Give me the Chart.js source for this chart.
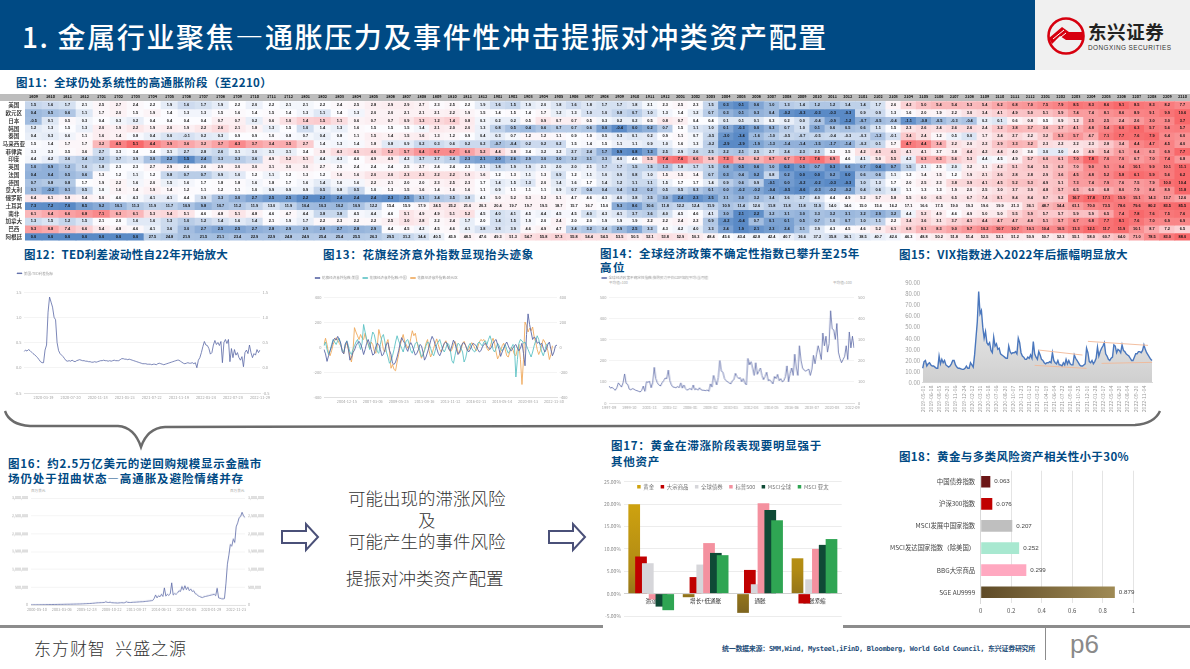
<!DOCTYPE html>
<html lang="zh"><head><meta charset="utf-8">
<script src="https://cdn.jsdelivr.net/npm/chart.js@4/dist/chart.umd.min.js"></script>
<style>
html,body{margin:0;padding:0;background:#fff;width:1190px;height:669px;overflow:hidden;font-family:"Noto Sans CJK SC","Noto Sans",sans-serif}
.t{position:absolute;white-space:nowrap;transform:translateY(-50%);line-height:1}
canvas{position:absolute}
.b{position:absolute}
</style></head><body>
<script>
// ---------- figure 11: CPI heat table ----------
const months=['1609','1610','1611','1612','1701','1702','1703','1704','1705','1706','1707','1708','1709','1710','1711','1712','1801','1802','1803','1804','1805','1806','1807','1808','1809','1810','1811','1812','1901','1902','1903','1904','1905','1906','1907','1908','1909','1910','1911','1912','2001','2002','2003','2004','2005','2006','2007','2008','2009','2010','2011','2012','2101','2102','2103','2104','2105','2106','2107','2108','2109','2110','2111','2112','2201','2202','2203','2204','2205','2206','2207','2208','2209','2210'];
const countries=['美国','欧元区','日本','韩国','泰国','马来西亚','菲律宾','印度','英国','法国','德国','意大利','俄罗斯','土耳其','南非','加拿大','巴西','阿根廷'];
const cpiUS=[1.5,1.6,1.7,2.1,2.5,2.7,2.4,2.2,1.9,1.6,1.7,1.9,2.2,2.0,2.2,2.1,2.1,2.2,2.4,2.5,2.8,2.9,2.9,2.7,2.3,2.5,2.2,1.9,1.6,1.5,1.9,2.0,1.8,1.6,1.8,1.7,1.7,1.8,2.1,2.3,2.5,2.3,1.5,0.3,0.1,0.6,1.0,1.3,1.4,1.2,1.2,1.4,1.4,1.7,2.6,4.2,5.0,5.4,5.4,5.3,5.4,6.2,6.8,7.0,7.5,7.9,8.5,8.3,8.6,9.1,8.5,8.3,8.2,7.7];
const cpiEA=[0.4,0.5,0.6,1.1,1.7,2.0,1.5,1.9,1.4,1.3,1.3,1.5,1.6,1.4,1.5,1.4,1.3,1.1,1.4,1.3,2.0,2.0,2.1,2.1,2.1,2.2,1.9,1.5,1.4,1.5,1.4,1.7,1.2,1.3,1.0,1.0,0.8,0.7,1.0,1.3,1.4,1.2,0.7,0.3,0.1,0.3,0.4,-0.2,-0.3,-0.3,-0.3,-0.3,0.9,0.9,1.3,1.6,2.0,1.9,2.2,3.0,3.4,4.1,4.9,5.0,5.1,5.9,7.4,7.4,8.1,8.6,8.9,9.1,9.9,10.6];
const cpiJP=[-0.5,0.1,0.5,0.3,0.4,0.3,0.2,0.4,0.4,0.4,0.4,0.7,0.7,0.2,0.6,1.0,1.4,1.5,1.1,0.6,0.7,0.7,0.9,1.3,1.2,1.4,0.8,0.3,0.2,0.2,0.5,0.9,0.7,0.7,0.5,0.3,0.2,0.2,0.5,0.8,0.7,0.4,0.4,0.1,0.1,0.1,0.3,0.2,0.0,-0.4,-0.9,-1.2,-0.7,-0.5,-0.4,-1.1,-0.8,-0.5,-0.3,-0.4,0.2,0.1,0.6,0.8,0.5,0.9,1.2,2.5,2.5,2.4,2.6,3.0,3.0,3.7];
const cpiKR=[1.2,1.3,1.5,1.3,2.0,1.9,2.2,1.9,2.0,1.9,2.2,2.6,2.1,1.8,1.3,1.5,1.0,1.4,1.3,1.6,1.5,1.5,1.5,1.4,2.1,2.0,2.0,1.3,0.8,0.5,0.4,0.6,0.7,0.7,0.6,0.0,-0.4,0.0,0.2,0.7,1.5,1.1,1.0,0.1,-0.3,0.0,0.3,0.7,1.0,0.1,0.6,0.5,0.6,1.1,1.5,2.3,2.6,2.4,2.6,2.6,2.4,3.2,3.8,3.7,3.6,3.7,4.1,4.8,5.4,6.0,6.3,5.7,5.6,5.7];
const cpiTH=[0.4,0.3,0.6,1.1,1.6,1.4,0.8,0.4,0.0,-0.1,0.2,0.3,0.9,0.9,1.0,0.8,0.7,0.4,0.8,1.1,1.5,1.4,1.5,1.6,1.3,1.2,0.9,0.4,0.3,0.7,1.2,1.2,1.1,0.9,1.0,0.5,0.3,0.1,0.2,0.9,1.1,0.7,-0.5,-3.0,-3.4,-1.6,-1.0,-0.5,-0.7,-0.5,-0.4,-0.3,-0.3,-1.2,-0.1,3.4,2.4,1.2,0.5,0.0,1.7,2.4,2.7,2.2,3.2,5.3,5.7,4.7,7.1,7.7,7.6,7.9,6.4,6.0];
const cpiMY=[1.5,1.4,1.7,1.7,3.2,4.5,5.1,4.4,3.9,3.6,3.2,3.7,4.3,3.7,3.4,3.5,2.7,1.4,1.3,1.4,1.8,0.8,0.9,0.2,0.3,0.6,0.2,0.2,-0.7,-0.4,0.2,0.2,0.2,1.5,1.4,1.5,1.1,1.1,0.9,1.0,1.6,1.3,-0.2,-2.9,-2.9,-1.9,-1.3,-1.4,-1.4,-1.5,-1.7,-1.4,-0.2,0.1,1.7,4.7,4.4,3.4,2.2,2.0,2.2,2.9,3.3,3.2,2.3,2.2,2.2,2.3,2.8,3.4,4.4,4.7,4.5,4.0];
const cpiPH=[3.3,3.3,3.5,3.6,2.7,3.3,3.4,3.4,3.1,2.7,2.8,2.6,3.1,3.0,3.1,3.1,3.4,3.8,4.3,4.5,4.6,5.2,5.7,6.4,6.7,6.7,6.0,5.2,4.4,3.8,3.4,3.2,3.2,2.7,2.4,1.7,0.9,0.8,1.3,2.5,2.9,2.6,2.5,2.2,2.1,2.5,2.7,2.4,2.3,2.5,3.3,3.5,4.2,4.5,4.5,4.1,4.1,3.7,3.8,4.4,4.2,4.4,4.0,3.6,3.0,3.0,4.0,4.9,5.4,6.1,6.4,6.3,6.9,7.7];
const cpiIN=[4.4,4.2,3.6,3.4,3.2,3.7,3.9,3.0,2.2,1.5,2.4,3.3,3.3,3.6,4.9,5.2,5.1,4.4,4.3,4.6,4.9,4.9,4.2,3.7,3.7,3.4,2.3,2.1,2.0,2.6,2.9,3.0,3.0,3.2,3.1,3.3,4.0,4.6,5.5,7.4,7.6,6.6,5.8,7.3,6.3,6.2,6.7,6.7,7.3,7.6,6.9,4.6,4.1,5.0,5.5,4.2,6.3,6.3,5.6,5.3,4.4,4.5,4.9,5.7,6.0,6.1,7.0,7.8,7.0,7.0,6.7,7.0,7.4,6.8];
const cpiUK=[1.0,0.9,1.2,1.6,1.8,2.3,2.3,2.7,2.9,2.6,2.6,2.9,3.0,3.0,3.1,3.0,3.0,2.7,2.5,2.4,2.4,2.4,2.5,2.7,2.4,2.4,2.3,2.1,1.8,1.9,1.9,2.1,2.0,2.0,2.1,1.7,1.7,1.5,1.5,1.3,1.8,1.7,1.5,0.8,0.5,0.6,1.0,0.2,0.5,0.7,0.3,0.6,0.7,0.4,0.7,1.5,2.1,2.5,2.0,3.2,3.1,4.2,5.1,5.4,5.5,6.2,7.0,9.0,9.1,9.4,10.1,9.9,10.1,11.1];
const cpiFR=[0.4,0.4,0.5,0.6,1.3,1.2,1.1,1.2,0.8,0.7,0.7,0.9,1.0,1.2,1.1,1.2,1.3,1.2,1.6,1.6,2.0,2.0,2.3,2.3,2.2,2.2,1.9,1.6,1.2,1.3,1.1,1.3,0.9,1.2,1.1,1.0,0.9,0.8,1.0,1.5,1.5,1.4,0.7,0.3,0.4,0.2,0.8,0.2,0.0,0.0,0.2,0.0,0.6,0.6,1.1,1.2,1.4,1.5,1.2,1.9,2.1,2.6,2.8,2.8,2.9,3.6,4.5,4.8,5.2,5.8,6.1,5.9,5.6,6.2];
const cpiDE=[0.7,0.8,0.8,1.7,1.9,2.2,1.6,2.0,1.5,1.6,1.7,1.8,1.8,1.6,1.8,1.7,1.6,1.4,1.6,1.6,2.2,2.1,2.0,2.0,2.3,2.5,2.3,1.7,1.4,1.5,1.3,2.0,1.4,1.6,1.7,1.4,1.2,1.1,1.1,1.5,1.7,1.7,1.4,0.9,0.6,0.9,-0.1,0.0,-0.2,-0.2,-0.3,-0.3,1.0,1.3,1.7,2.0,2.5,2.3,3.8,3.9,4.1,4.5,5.2,5.3,4.9,5.1,7.3,7.4,7.9,7.6,7.5,7.9,10.0,10.4];
const cpiIT=[0.1,-0.2,0.1,0.5,1.0,1.6,1.4,1.9,1.4,1.2,1.1,1.2,1.1,1.0,0.9,0.9,0.9,0.5,0.8,0.5,1.0,1.3,1.5,1.6,1.4,1.6,1.6,1.1,0.9,1.1,1.1,1.1,0.9,0.7,0.4,0.4,0.4,0.2,0.2,0.5,0.5,0.3,0.1,0.0,-0.2,-0.2,-0.4,-0.5,-0.6,-0.3,-0.2,-0.2,0.4,0.6,0.8,1.1,1.3,1.3,1.9,2.0,2.5,3.0,3.7,3.9,4.8,5.7,6.5,6.0,6.8,8.0,7.9,8.4,8.9,11.8];
const cpiRU=[6.4,6.1,5.8,5.4,5.0,4.6,4.3,4.1,4.1,4.4,3.9,3.3,3.0,2.7,2.5,2.5,2.2,2.2,2.4,2.4,2.4,2.3,2.5,3.1,3.4,3.5,3.8,4.3,5.0,5.2,5.3,5.2,5.1,4.7,4.6,4.3,4.0,3.8,3.5,3.0,2.4,2.3,2.5,3.1,3.0,3.2,3.4,3.6,3.7,4.0,4.4,4.9,5.2,5.7,5.8,5.5,6.0,6.5,6.5,6.7,7.4,8.1,8.4,8.4,8.7,9.2,16.7,17.8,17.1,15.9,15.1,14.3,13.7,12.6];
const cpiTR=[7.3,7.2,7.0,8.5,9.2,10.1,11.3,11.9,11.7,10.9,9.8,10.7,11.2,11.9,13.0,11.9,10.4,10.3,10.2,10.9,12.2,15.4,15.9,17.9,24.5,25.2,21.6,20.3,20.4,19.7,19.7,19.5,18.7,15.7,16.7,15.0,9.3,8.6,10.6,11.8,12.2,12.4,11.9,10.9,11.4,12.6,11.8,11.8,11.8,11.9,14.0,14.6,15.0,15.6,16.2,17.1,16.6,17.5,19.0,19.3,19.6,19.9,21.3,36.1,48.7,54.4,61.1,70.0,73.5,78.6,79.6,80.2,83.5,85.5];
const cpiZA=[6.1,6.4,6.6,6.8,7.1,6.3,6.1,5.3,5.4,5.1,4.6,4.8,5.1,4.8,4.6,4.7,4.4,3.8,3.8,4.5,4.4,4.6,5.1,4.9,4.9,5.1,5.2,4.5,4.0,4.1,4.5,4.4,4.5,4.5,4.0,4.3,4.1,3.7,3.6,4.0,4.5,4.6,4.1,3.0,2.1,2.2,3.2,3.1,3.0,3.3,3.2,3.1,3.2,2.9,3.2,4.4,5.2,4.9,4.6,4.9,5.0,5.0,5.5,5.9,5.7,5.7,5.9,5.9,6.5,7.4,7.8,7.6,7.5,7.6];
const cpiCA=[1.3,1.5,1.2,1.5,2.1,2.0,1.6,1.6,1.3,1.0,1.2,1.4,1.6,1.4,2.1,1.9,1.7,2.2,2.3,2.2,2.2,2.5,3.0,2.8,2.2,2.4,1.7,2.0,1.4,1.5,1.9,2.0,2.4,2.0,2.0,1.9,1.9,1.9,2.2,2.2,2.4,2.2,0.9,-0.2,-0.4,0.7,0.1,0.1,0.5,0.7,1.0,0.7,1.0,1.1,2.2,3.4,3.6,3.1,3.7,4.1,4.4,4.7,4.7,4.8,5.1,5.7,6.7,6.8,7.7,8.1,7.6,7.0,6.9,6.9];
const cpiBR=[9.3,8.8,7.4,6.6,5.4,4.8,4.6,4.1,3.6,3.0,2.7,2.5,2.5,2.7,2.8,2.9,2.9,2.8,2.7,2.8,2.9,4.4,4.5,4.2,4.5,4.6,4.1,3.8,3.8,3.9,4.6,4.9,4.7,3.4,3.2,3.4,2.9,2.5,3.3,4.3,4.2,4.0,3.3,2.4,1.9,2.1,2.3,2.4,3.1,3.9,4.3,4.5,4.6,5.2,6.1,6.8,8.1,8.3,9.0,9.7,10.2,10.7,10.7,10.1,10.4,10.5,11.3,12.1,11.7,11.9,10.1,8.7,7.2,6.5];
const cpiAR=[0,0,0,0,0,0,0,27.5,24.8,21.9,21.5,21.1,23.4,22.9,22.9,24.8,24.9,25.4,25.4,25.5,26.3,29.5,31.2,34.4,40.5,45.9,48.5,47.6,49.3,51.3,54.7,55.8,57.3,55.8,54.4,54.5,53.5,50.5,52.1,53.8,52.9,50.3,48.4,45.6,43.4,42.8,42.4,40.7,36.6,37.2,35.8,36.1,38.5,40.7,42.6,46.3,48.8,50.2,51.8,51.4,52.5,52.1,51.2,50.9,50.7,52.3,55.1,58.0,60.7,64.0,71.0,78.5,83.0,88.0];
const heatRows=[cpiUS,cpiEA,cpiJP,cpiKR,cpiTH,cpiMY,cpiPH,cpiIN,cpiUK,cpiFR,cpiDE,cpiIT,cpiRU,cpiTR,cpiZA,cpiCA,cpiBR,cpiAR];

// ---------- figure 12: TED spread ----------
const tedTicks=['2020-03-19','2020-07-20','2020-11-18','2021-03-23','2021-07-22','2021-11-19','2022-03-24','2022-07-28','2022-11-29'];
const tedSpread=[0.32,0.35,0.33,0.36,0.34,0.31,0.28,0.26,0.23,0.2,0.16,0.12,0.1,0.1,0.35,0.45,1.1,1.4,1.3,1.2,1.0,0.95,0.5,0.34,0.28,0.25,0.22,0.18,0.14,0.13,0.14,0.13,0.15,0.13,0.12,0.14,0.15,0.16,0.15,0.14,0.14,0.13,0.13,0.12,0.12,0.11,0.11,0.12,0.11,0.12,0.13,0.14,0.14,0.15,0.14,0.14,0.13,0.14,0.13,0.14,0.15,0.14,0.14,0.14,0.16,0.18,0.18,0.17,0.17,0.16,0.17,0.16,0.15,0.14,0.13,0.12,0.11,0.1,0.09,0.08,0.08,0.08,0.07,0.07,0.07,0.06,0.07,0.07,0.06,0.08,0.09,0.08,0.07,0.06,0.07,0.08,0.09,0.1,0.11,0.12,0.13,0.14,0.15,0.15,0.13,0.11,0.09,0.08,0.09,0.1,0.09,0.09,0.1,0.08,0.1,0.0,0.15,0.2,0.3,0.42,0.52,0.45,0.44,0.38,0.27,0.3,0.45,0.54,0.46,0.5,0.44,0.52,0.1,0.5,0.56,0.48,0.56,0.12,0.38,0.2,0.36,0.25,0.3,0.2,0.15,0.22,0.02,0.3,0.35,0.28,0.45,0.3,0.2,0.28,0.25,0.36,0.3,0.35];

// ---------- figure 13: Citi surprise ----------
const citiTicks=['2004-12-15','2007-03-06','2009-05-25','2011-08-16','2013-11-12','2016-02-11','2018-05-14','2020-08-13','2022-11-30'];
const citiNames=['花旗经济意外指数:美国','花旗经济意外指数:中国','花旗经济意外指数:欧元区'];
const citiUS=[-20,-55,-115,-70,-30,5,50,70,55,85,60,30,-40,-55,25,45,-15,-105,-85,-45,-25,10,30,45,25,-10,-60,-20,30,60,25,-20,-65,-55,0,30,20,-20,-70,-60,-20,25,35,-25,-60,-130,-140,-120,-80,-30,30,75,50,30,-10,-35,10,35,10,-30,-65,-50,-20,20,10,-40,-105,-80,-40,0,50,85,60,20,-10,-50,-70,-40,0,30,40,20,-20,-30,10,55,30,-20,-60,-40,0,30,35,10,-20,-40,-20,10,30,20,10,-20,-40,-30,0,20,30,10,-10,-20,0,30,50,60,20,-20,-75,-40,-10,20,40,10,-20,-30,-10,10,20,-10,-30,-10,30,-50,-150,100,265,180,120,60,80,70,30,40,20,30,-10,-40,-20,20,40,-20,-70,-40,10,15];
const citiCN=[10,40,-20,-60,-30,20,60,40,20,50,70,20,-30,-40,20,50,10,-40,-60,-20,10,40,60,20,-20,30,180,120,60,30,-20,60,120,100,40,-40,-50,20,80,100,40,-40,-80,-130,-110,-70,-20,40,90,50,20,-10,-40,10,50,60,20,-30,-50,-10,30,40,10,-30,-80,-60,-30,10,40,30,-10,-50,-70,-30,20,40,60,20,-20,-40,-10,30,20,-30,-110,-130,-70,-10,30,20,-10,-40,-120,-90,-30,10,30,-10,-30,-40,-10,30,40,20,10,40,50,20,60,90,50,-20,-40,-10,30,10,-20,-30,-10,20,-20,-50,-30,-10,20,10,-240,-100,30,60,50,30,40,10,-20,-50,-80,-40,10,50,90,60,10,-40,-70,-30,20,25];
const citiEA=[20,70,20,-50,-70,-30,20,50,75,55,30,10,-20,-50,10,30,-20,-70,-120,-40,155,120,90,60,100,70,60,110,50,20,-10,40,20,-30,-50,10,140,90,50,-20,-40,30,60,-30,-170,-140,-180,-190,-120,-60,10,60,100,40,20,-10,10,70,130,90,110,40,-10,-50,-90,-60,-20,30,60,-30,-80,-50,-10,30,65,20,-20,-40,-10,30,50,20,-10,-40,-20,20,45,10,-40,-50,-20,30,45,15,-30,-20,10,35,20,-10,-30,0,40,60,50,60,30,-10,-30,0,40,70,30,-40,-95,-70,-30,10,30,-20,-70,-80,-40,0,-20,-60,-70,-20,20,-100,-300,-100,200,170,120,150,130,160,80,40,-20,-60,-30,20,60,40,10,-30,-100,-60,10];

// ---------- figure 14: global EPU ----------
const epuTicks=['1997-09','1999-10','2001-11','2003-12','2006-01','2008-02','2010-03','2012-04','2014-05','2016-06','2018-07','2020-08','2022-09'];
const epuIndex=[80,70,74,66,60,72,95,85,75,95,137,92,88,65,62,68,65,60,58,55,52,60,80,55,100,98,102,72,95,168,115,95,85,80,95,105,118,115,155,105,85,75,74,72,78,72,95,70,85,68,60,65,68,62,85,62,68,60,72,62,60,60,58,62,55,90,75,130,105,85,120,200,150,145,115,105,100,95,90,105,110,140,125,115,120,100,115,95,85,210,180,195,165,130,190,135,150,165,130,110,125,145,105,110,100,90,125,115,135,105,115,100,105,125,175,100,140,165,130,230,165,130,270,200,165,155,150,155,160,130,160,225,185,230,270,240,205,330,270,315,240,280,435,350,345,300,375,240,210,190,205,220,270,205,335,260,315,260];

// ---------- figure 15: VIX ----------
const vixTicks=['2019-05-01','2019-06-18','2019-08-05','2019-09-20','2019-11-06','2019-12-24','2020-02-12','2020-03-31','2020-05-18','2020-07-06','2020-08-20','2020-10-07','2020-11-23','2021-01-12','2021-03-02','2021-04-19','2021-06-04','2021-07-22','2021-09-08','2021-10-25','2021-12-10','2022-01-28','2022-03-17','2022-05-04','2022-06-20','2022-08-04','2022-09-20','2022-11-04'];
const vixClose=[13,19,20,15,17,18,16,15,15,14,13,13,24,17,21,18,20,16,15,14,15,17,20,20,16,14,13,13,12.5,12,12,13,15,13,13,18,16,14,25,40,55,82,62,65,50,40,46,36,34,36,29,27,41,33,35,30,31,26,25,24,23,22,22,33,28,26,27,27,28,26,40,36,27,24,23,21,21,23,22,25,22,37,26,23,21,28,25,21,20,18,17,18,18,19,18,27,20,18,17,20,16,16,15,18,16,21,17,20,17,16,16,25,22,20,18,16,15,15,16,17,31,27,19,18,20,17,19,22,32,24,28,31,33,36,26,24,21,20,22,23,34,33,27,30,29,27,34,29,28,26,25,24,22,20,20,23,26,26,28,28,27,29,34,30,27,25,23,21,20];
const vixTrendA=[[85,29.4],[117,24.9]], vixTrendB=[[82,15.6],[120,12.9]], vixTrendC=[[121,37.2],[165,33.6]], vixTrendD=[[131,17.4],[168,18.3]];

// ---------- figure 16: reverse repo ----------
const repoTicks=['2000-05-10','2003-03-06','2005-12-28','2008-10-22','2011-08-17','2014-06-11','2017-04-05','2020-01-29','2022-11-23'];
const repoVolume=[4000,5000,5000,6000,6000,7000,7000,8000,9000,9000,10000,11000,12000,12000,13000,14000,15000,15000,16000,17000,18000,18000,19000,20000,21000,22000,22000,23000,24000,25000,26000,27000,28000,29000,30000,32000,34000,36000,38000,40000,42000,45000,48000,52000,56000,60000,62000,64000,66000,68000,70000,90000,75000,70000,80000,65000,62000,60000,58000,55000,58000,62000,65000,60000,65000,90000,75000,72000,70000,75000,78000,80000,82000,85000,88000,90000,92000,95000,100000,105000,110000,115000,120000,125000,180000,280000,200000,260000,230000,300000,240000,480000,250000,300000,270000,310000,620000,280000,320000,300000,340000,400000,380000,520000,420000,540000,430000,500000,400000,450000,380000,400000,320000,300000,260000,240000,220000,210000,230000,240000,250000,260000,270000,280000,290000,300000,260000,470000,200000,190000,175000,170000,180000,600000,1150000,1400000,1700000,1650000,1850000,1750000,2200000,2300000,2450000,2480000,2600000,2500000,2450000];

// ---------- figure 17: asset returns ----------
const phases=['滞涨','增长+低通胀','通胀','通胀紧缩'];
const assetNames=['黄金','大宗商品','全球债券','标普500','MSCI全球','MSCI 亚太'];
const retGold=[20.0,-0.8,-4.3,7.9];
const retCommodity=[8.3,3.7,5.3,-2.2];
const retBond=[6.8,6.5,2.1,3.2];
const retSP500=[-1.3,11.3,20.2,10.0];
const retWorld=[-2.9,9.1,18.7,10.9];
const retAsia=[-3.7,8.6,16.4,12.2];

// ---------- figure 18: gold correlation ----------
const corrNames=['中国债券指数','沪深300指数','MSCI发展中国家指数','MSCI发达国家指数（除美国）','BBG大宗商品','SGE AU9999'];
const corrValues=[0.063,0.076,0.207,0.252,0.299,0.879];

// ---------- page helpers ----------
Chart.defaults.animation=false;
Chart.defaults.responsive=false;
Chart.defaults.font.family='"Noto Sans CJK SC","Noto Sans",sans-serif';
const BLUE='#004a84', LINE='#5a68a6', TICK='#a6a6a6', GRID='#f4f4f4';

function box(x,y,w,h,bg){const d=document.createElement('div');d.className='b';d.style.cssText+=`left:${x}px;top:${y}px;width:${w}px;height:${h}px;background:${bg}`;document.body.appendChild(d);return d;}
function text(s,x,cy,size,color,weight,extra){const d=document.createElement('div');d.className='t';d.textContent=s;d.style.cssText+=`left:${x}px;top:${cy}px;font-size:${size}px;color:${color};font-weight:${weight||400};${extra||''}`;document.body.appendChild(d);return d;}
function fit(d,w){const r=d.getBoundingClientRect().width;d.style.letterSpacing=((w-r)/d.textContent.length)+'px';return d;}
function title(s,x,cy,w){return fit(text(s,x,cy,11.5,BLUE,700),w);}
function canvas(x,y,w,h){const c=document.createElement('canvas');c.width=w;c.height=h;c.style.left=x+'px';c.style.top=y+'px';c.style.width=w+'px';c.style.height=h+'px';document.body.appendChild(c);return c;}
const zeroPad=s=>{s.paddingLeft=0;s.paddingRight=0;s.paddingTop=0;s.paddingBottom=0;};
const fixW=w=>s=>{s.width=w;zeroPad(s);};
const fixH=h=>s=>{s.height=h;zeroPad(s);};
function tickLabels(n,offset,step,names){const a=new Array(n).fill('');names.forEach((t,k)=>{const i=offset+k*step;if(i<n)a[i]=t;});return a;}
// places the library's legend at a chosen spot of the canvas, once layout is done
const placeLegend=(x,y,w)=>({id:'placeLegend',afterLayout(chart){const l=chart.legend;if(!l)return;const h=l.height;l.left=x;l.right=x+w;l.top=y;l.bottom=y+h;}});

// header
box(0,0,1035,70,BLUE);
box(1035,0,155,70,'#f0f0f0');
fit(text('1. 金属行业聚焦—通胀压力及事件性冲击提振对冲类资产配置',22,36,28,'#fff',500),806);
// footer rules
box(0,625,603,2.5,'#8c8c8c');box(843,625,347,2.5,'#8c8c8c');
box(1045,627,1,33,'#8c8c8c');
fit(text('东方财智  兴盛之源',34,647,17,'#333',300,'white-space:pre;'),153);
fit(text('统一数据来源：SMM,Wind, Mysteel,iFinD, Bloomberg, World Gold Council, 东兴证券研究所',722,649,7,'#1f4e79',700,'font-family:"DejaVu Sans Mono","Noto Sans CJK SC",monospace;'),313);
text('p6',1070,644,26,'#8a8a8a',400,'font-family:"Liberation Sans",sans-serif;');
// logo, brace and arrows
document.body.insertAdjacentHTML('beforeend',`<svg width="1190" height="669" style="position:absolute;left:0;top:0;pointer-events:none">
<circle cx="1066" cy="36" r="17.5" fill="none" stroke="#d7000f" stroke-width="2.6"/>
<path d="M1049 38 L1062 27 L1069 32 L1083 32 L1083 40 L1066 40 L1060 36 L1052 44 Z" fill="#d7000f"/>
<path d="M1053 39 L1064 30 M1056 41 L1066 33" stroke="#fff" stroke-width="1"/>
<path d="M5 411 C8 420 16 425 30 426 L118 426 C132 427 138 438 141 447 C144 438 150 428 165 427 L1135 425 C1148 424 1156 420 1160 411" fill="none" stroke="#6b6b6b" stroke-width="2.4"/>
<path d="M282 531 H306 V524 L318 537 L306 550 V543 H282 Z" fill="#fff" stroke="#4a5078" stroke-width="2"/>
<path d="M549 531 H573 V524 L585 537 L573 550 V543 H549 Z" fill="#fff" stroke="#4a5078" stroke-width="2"/>
</svg>`);
text('东兴证券',1088,31,18.5,'#222',700,'letter-spacing:.6px;');
text('DONGXING SECURITIES',1088,48,6.4,'#333',500,'letter-spacing:.45px;font-family:"Liberation Sans",sans-serif;');

// titles
title('图11：全球仍处系统性的高通胀阶段（至2210）',16,83,256);
title('图12：TED利差波动性自22年开始放大',24,255,204);
title('图13：花旗经济意外指数显现抬头迹象',323,255,211);
title('图14：全球经济政策不确定性指数已攀升至25年',600,254,260);
title('高位',600,268,26);
title('图15：VIX指数进入2022年后振幅明显放大',899,255,229);
title('图16：约2.5万亿美元的逆回购规模显示金融市',8,464,254);
title('场仍处于扭曲状态—高通胀及避险情绪并存',8,479,236);
title('图17：黄金在滞涨阶段表现要明显强于',611,446,211);
title('其他资产',611,462,49);
title('图18：黄金与多类风险资产相关性小于30%',899,457,230);
// centre statement
text('可能出现的滞涨风险',348,498,17.5,'#333',300);
text('及',418,520,17.5,'#333',300);
text('可能产生的事件风险',348,541,17.5,'#333',300);
text('提振对冲类资产配置',346,578,17.5,'#333',300);
// axis units
[['平均值=100',609,283],['平均值=100',833,283]].forEach(a=>text(a[0],a[1],a[2],3.6,TICK));
[['百万美元',31,491],['百万美元',230,491]].forEach(a=>text(a[0],a[1],a[2],3.6,TICK));

// ---------- heat table: coloured through per-row 3-colour scale ----------
box(0,94,1190,7.3,'#bdbdbd');
function mix(a,b,t){return 'rgb('+a.map((v,i)=>Math.round(v+(b[i]-v)*t)).join(',')+')';}
const C_LOW=[0x5a,0x8a,0xc6],C_MID=[0xfc,0xfc,0xff],C_HIGH=[0xf8,0x69,0x6b];
function rowColors(row){const s=[...row].sort((a,b)=>a-b),lo=s[0],hi=s[s.length-1],m=(s[36]+s[37])/2;
  return row.map(v=>v<=m?mix(C_LOW,C_MID,(v-lo)/((m-lo)||1)):mix(C_MID,C_HIGH,(v-m)/((hi-m)||1)));}
const cellLabels={id:'cellLabels',afterDatasetsDraw(chart){const c=chart.ctx;c.save();c.font='700 3.9px "Liberation Sans",sans-serif';c.fillStyle='#111';c.textAlign='center';c.textBaseline='middle';
  chart.getSortedVisibleDatasetMetas().forEach(m=>{const vals=chart.data.datasets[m.index].cellValues;m.data.forEach((el,i)=>c.fillText(vals[i].toFixed(1),el.x,(el.y+el.base)/2));});c.restore();}};
function heat(from,to,x,w,withAxis){
  const cv=canvas(x,94,w,147);
  new Chart(cv,{type:'bar',plugins:[cellLabels],
    data:{labels:months.slice(from,to),datasets:heatRows.map((row,r)=>({
      data:row.slice(from,to).map(()=>[r,r+1]),cellValues:row.slice(from,to),
      backgroundColor:rowColors(row).slice(from,to),borderWidth:0,barPercentage:1,categoryPercentage:1,grouped:false}))},
    options:{layout:{padding:{bottom:0.4}},plugins:{legend:{display:false},tooltip:{enabled:false}},
      scales:{x:{type:'category',position:'top',offset:true,grid:{display:false,drawTicks:false},border:{display:false},afterFit:fixH(7.3),
          ticks:{autoSkip:false,maxRotation:0,minRotation:0,padding:2,font:{size:3.8,weight:'700'},color:'#111'}},
        y:{type:'linear',reverse:true,min:0,max:18,display:withAxis,grid:{display:false,drawTicks:false},border:{display:false},afterFit:fixW(withAxis?25:0),
          ticks:{stepSize:1,autoSkip:false,crossAlign:'center',padding:0,labelOffset:3.87,font:{size:5.6,weight:'500'},color:'#222',callback:v=>countries[v]||''}}}}});
}
heat(0,22,0,399,true);
heat(22,74,399,791,false);

// ---------- line chart helper ----------
function lineChart(o){
  const lw=o.left,rw=o.right,mt=o.top,mb=o.bottom;
  const cx=o.l-lw,cy=o.t-mt;
  const cv=canvas(cx,cy,o.r-o.l+lw+rw,o.b-o.t+mt+mb);
  const pad=4,fs=3.6,legendH=o.legend?2*pad+fs:0;
  const yTicks=(p)=>({stepSize:o.step,padding:p,font:{size:o.yFont||4},color:TICK,callback:o.yFmt||(v=>v)});
  new Chart(cv,{type:'line',data:{labels:o.labels,datasets:o.datasets},
    plugins:o.legend?[placeLegend(o.legend.x-cx-pad,o.legend.y-cy-pad-fs/2,400)]:[],
    options:{layout:{padding:{top:mt-legendH,left:0,right:0,bottom:0}},elements:{point:{radius:0},line:{tension:0}},
      plugins:{tooltip:{enabled:false},legend:o.legend?{display:true,position:'top',align:'start',
        labels:{boxWidth:5,boxHeight:0.5,padding:pad,font:{size:fs},color:'#999'}}:{display:false}},
      scales:{x:{type:'category',offset:false,grid:{display:false,drawTicks:false},border:{color:'#e0e0e0'},afterFit:fixH(mb),
          ticks:{autoSkip:false,maxRotation:0,minRotation:0,padding:2.5,font:{size:3.9},color:TICK,callback(v){return this.getLabelForValue(v);}}},
        y:{min:o.min,max:o.max,position:'left',grid:{color:GRID,drawTicks:false},border:{display:false},afterFit:fixW(lw),ticks:yTicks(o.padL||2.5)},
        y2:{min:o.min,max:o.max,position:'right',grid:{display:false,drawTicks:false},border:{display:false},afterFit:fixW(rw),ticks:yTicks(o.padR||2.5)}}}});
}
const line=(label,data,color,w)=>({label,data,borderColor:color,backgroundColor:color,borderWidth:w||0.8,fill:false,yAxisID:'y'});

lineChart({l:24,r:260,t:285.7,b:393.3,left:14,right:14,top:16,bottom:12,min:-0.5,max:1.5,step:0.5,yFmt:v=>v.toFixed(1),
  labels:tickLabels(tedSpread.length,13,18,tedTicks),legend:{x:17,y:273},
  datasets:[line('美国:TED利差指标',tedSpread,LINE)]});
lineChart({l:324,r:557,t:291,b:397.3,left:14,right:14,top:17,bottom:12,min:-400,max:400,step:200,
  labels:tickLabels(citiUS.length,15,17,citiTicks),legend:{x:315,y:278},
  datasets:[line(citiNames[0],citiUS,LINE,0.9),line(citiNames[1],citiCN,'#5cc2c4',0.9),line(citiNames[2],citiEA,'#efa95c',0.9)]});
lineChart({l:609.3,r:854,t:291,b:403.3,left:14,right:14,top:17,bottom:12,min:0,max:500,step:100,padR:4,
  labels:tickLabels(epuIndex.length,0,13,epuTicks),legend:{x:602,y:278},
  datasets:[line('全球经济政策不确定性指数:按购买力平价GDP加权平均:当月值',epuIndex,LINE)]});
lineChart({l:31,r:245,t:498.3,b:604.7,left:22,right:22,top:6,bottom:12,min:0,max:3000000,step:500000,yFont:3.6,padL:3,padR:3,yFmt:v=>v.toLocaleString('en-US'),
  labels:tickLabels(repoVolume.length,4,17,repoTicks),
  datasets:[line('逆回购规模',repoVolume,LINE)]});

// ---------- VIX ----------
const trendData=(pts,n)=>{const a=new Array(n).fill(null);pts.forEach(p=>{if(p[0]<n)a[p[0]]=p[1];});return a;};
const vixN=vixClose.length;
const trend=(pts)=>({data:trendData(pts,vixN),borderColor:'#f2b896',borderWidth:0.9,spanGaps:true,pointRadius:0,fill:false,order:0,clip:false});
new Chart(canvas(900,278,260,150),{type:'line',
  data:{labels:tickLabels(vixN,0,6,vixTicks),datasets:[
    {data:vixClose,borderColor:'#4a77bd',borderWidth:1.4,pointRadius:0,tension:0,fill:'origin',order:1,
     backgroundColor(ctx){const a=ctx.chart.chartArea;if(!a)return '#ddd';const g=ctx.chart.ctx.createLinearGradient(0,a.top,0,a.bottom);g.addColorStop(0,'#f6f6f6');g.addColorStop(1,'#cfcfcf');return g;}},
    trend(vixTrendA),trend(vixTrendB),trend(vixTrendC),trend(vixTrendD)]},
  options:{layout:{padding:{top:4.7,left:0,right:7.9,bottom:0}},plugins:{legend:{display:false},tooltip:{enabled:false}},
    scales:{x:{type:'category',offset:false,grid:{display:false,drawTicks:false},border:{color:'#dcdcdc'},afterFit:fixH(45.3),
        ticks:{autoSkip:false,maxRotation:90,minRotation:90,padding:3,font:{size:5.2},color:'#9a9a9a',callback(v){return this.getLabelForValue(v);}}},
      y:{min:0,max:90,grid:{display:false,drawTicks:false},border:{display:false},afterFit:fixW(22.7),
        ticks:{stepSize:10,padding:2.5,font:{size:6},color:'#a0a0a0',callback:v=>v.toFixed(2)}}}}});

// ---------- figure 17 ----------
const fillGold=ctx=>{const a=ctx.chart.chartArea;if(!a)return '#c49a12';const g=ctx.chart.ctx.createLinearGradient(0,a.top+20,0,a.bottom);g.addColorStop(0,'#cfa30f');g.addColorStop(.6,'#b08a14');g.addColorStop(1,'#7a6220');return g;};
const paintInOrder={id:'paintInOrder',beforeDatasetsDraw(chart){chart.getSortedVisibleDatasetMetas().forEach(m=>m.controller.draw());return false;}};
const assetBar=(label,data,color)=>({label,data,backgroundColor:color,borderWidth:0,categoryPercentage:0.75,barPercentage:1.72});
new Chart(canvas(596,459,250,161),{type:'bar',plugins:[paintInOrder,placeLegend(28,18.5,217.7)],
  data:{labels:phases,datasets:[assetBar(assetNames[0],retGold,fillGold),assetBar(assetNames[1],retCommodity,'#c00000'),assetBar(assetNames[2],retBond,'#d6d6da'),assetBar(assetNames[3],retSP500,'#f4919f'),assetBar(assetNames[4],retWorld,'#0f4a36'),assetBar(assetNames[5],retAsia,'#2fa553')]},
  options:{layout:{padding:{top:0.9,left:0,right:4.3,bottom:4}},
    plugins:{tooltip:{enabled:false},legend:{position:'top',align:'center',labels:{boxWidth:3.5,boxHeight:3.5,padding:6.5,font:{size:5.4},color:'#777'}}},
    scales:{x:{position:{y:0},z:1,grid:{display:false,drawTicks:false},border:{color:'#d0d0d0'},afterFit:s=>{zeroPad(s);},
        ticks:{autoSkip:false,maxRotation:0,padding:4,font:{size:5.6},color:'#333'}},
      y:{min:-5,max:25,grid:{color:'#ececec',drawTicks:false},border:{display:false},afterFit:fixW(28),
        ticks:{stepSize:5,padding:3,font:{size:5},color:'#8c8c8c',callback:v=>v.toFixed(2)+'%'}}}}});

// ---------- figure 18 ----------
const fillBronze=ctx=>{const a=ctx.chart.chartArea;if(!a)return '#857045';const g=ctx.chart.ctx.createLinearGradient(a.left,0,a.left+135,0);g.addColorStop(0,'#5e4a27');g.addColorStop(1,'#a08b55');return g;};
const corrColors=['#6b1515','#c00000','#bfbfbf','#a8e8d0','#ffa8c0'];
const endValues={id:'endValues',afterDatasetsDraw(chart){const c=chart.ctx;c.save();c.font='6.2px "Liberation Sans",sans-serif';c.fillStyle='#444';c.textBaseline='middle';
  chart.getDatasetMeta(0).data.forEach((el,i)=>c.fillText(String(corrValues[i]),el.x+4,el.y));c.restore();}};
new Chart(canvas(880,466,270,152),{type:'bar',plugins:[endValues],
  data:{labels:corrNames,datasets:[{data:corrValues,backgroundColor:ctx=>corrColors[ctx.dataIndex]||fillBronze(ctx),borderWidth:0,barPercentage:0.53,categoryPercentage:1}]},
  options:{indexAxis:'y',layout:{padding:{top:4.7,left:0,right:16.7,bottom:0}},plugins:{legend:{display:false},tooltip:{enabled:false}},
    scales:{x:{min:0,max:1,grid:{color:'#e4e4e4',drawTicks:false},border:{display:false},afterFit:fixH(14.7),
        ticks:{stepSize:0.2,padding:4,font:{size:6},color:'#555',callback:v=>+v.toFixed(1)}},
      y:{grid:{display:false,drawTicks:false},border:{color:'#d9d9d9'},afterFit:fixW(100.7),
        ticks:{autoSkip:false,padding:5.5,font:{size:6.4},color:'#444'}}}}});
</script>
</body></html>
